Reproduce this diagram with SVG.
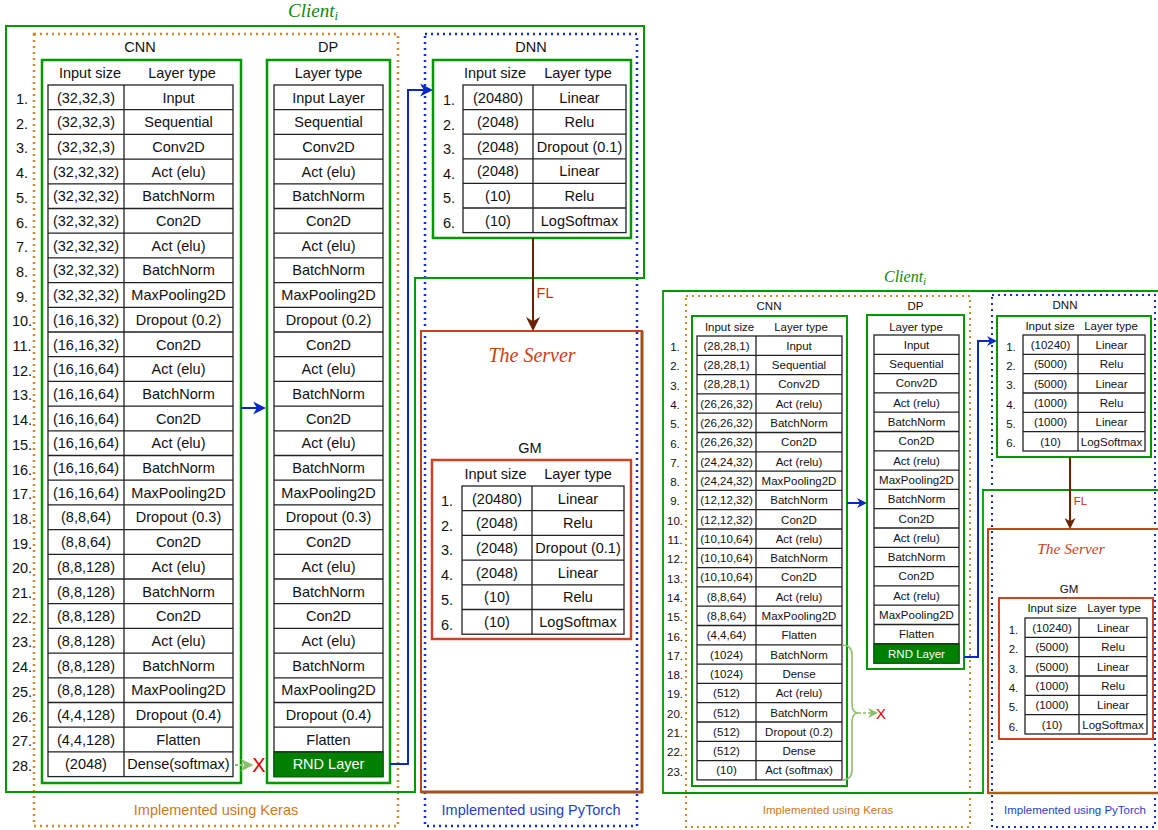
<svg xmlns="http://www.w3.org/2000/svg" width="1158" height="830" viewBox="0 0 1158 830">
<style>
.t{font-family:"Liberation Sans",Arial,sans-serif;font-size:14.5px;fill:#111;text-anchor:middle}
.s{font-size:11.5px}
.m{font-family:"Liberation Serif","Times New Roman",serif;font-style:italic}
.cell{fill:#fff;stroke:#222;stroke-width:1.3}
.grid{fill:none;stroke:#222;stroke-width:1.3}
.gb{fill:none;stroke:#009900;stroke-width:2.5}
.gbs{fill:none;stroke:#009900;stroke-width:2}
.ob{fill:none;stroke:#CC4422;stroke-width:2.5}
.kd{fill:none;stroke:#D08A2A;stroke-width:2.5;stroke-dasharray:2 4}
.pd{fill:none;stroke:#1030D0;stroke-width:2.5;stroke-dasharray:2 4}
.bl{fill:none;stroke:#0A28C8;stroke-width:2}
.br{fill:none;stroke:#6B2200;stroke-width:2}
.gd{fill:none;stroke:#8CBF6A;stroke-width:2;stroke-dasharray:3 2}
.rnd{fill:#008000;stroke:#006600;stroke-width:1.3}
.w{fill:#fff}
.x{font-family:"Liberation Sans",Arial,sans-serif;fill:#E00000;text-anchor:middle}
</style>
<defs>
<marker id="bL" viewBox="0 0 10 10" refX="7" refY="5" markerWidth="13" markerHeight="13" markerUnits="userSpaceOnUse" orient="auto"><path d="M0,0L10,5L0,10L3,5z" fill="#0A28C8"/></marker>
<marker id="bS" viewBox="0 0 10 10" refX="7" refY="5" markerWidth="10" markerHeight="10" markerUnits="userSpaceOnUse" orient="auto"><path d="M0,0L10,5L0,10L3,5z" fill="#0A28C8"/></marker>
<marker id="fL" viewBox="0 0 10 10" refX="7" refY="5" markerWidth="14" markerHeight="14" markerUnits="userSpaceOnUse" orient="auto"><path d="M0,0L10,5L0,10L3,5z" fill="#6B2200"/></marker>
<marker id="fS" viewBox="0 0 10 10" refX="7" refY="5" markerWidth="11" markerHeight="11" markerUnits="userSpaceOnUse" orient="auto"><path d="M0,0L10,5L0,10L3,5z" fill="#6B2200"/></marker>
<marker id="gL" viewBox="0 0 10 10" refX="7" refY="5" markerWidth="13" markerHeight="13" markerUnits="userSpaceOnUse" orient="auto"><path d="M0,0L10,5L0,10L3,5z" fill="#8CBF6A"/></marker>
<marker id="gS" viewBox="0 0 10 10" refX="7" refY="5" markerWidth="10" markerHeight="10" markerUnits="userSpaceOnUse" orient="auto"><path d="M0,0L10,5L0,10L3,5z" fill="#8CBF6A"/></marker>
</defs>
<rect width="1158" height="830" fill="#fff"/>

<!-- ================= LEFT DIAGRAM ================= -->
<g id="keras-left">
<rect class="kd" x="34" y="34" width="364" height="792"/>
<text class="t" x="216" y="815" style="fill:#CC7A1A">Implemented using Keras</text>
</g>
<g id="pytorch-left">
<rect class="pd" x="425" y="34" width="212" height="792"/>
<text class="t" x="531" y="815" style="fill:#1F3FCC">Implemented using PyTorch</text>
</g>
<g id="client-left">
<path d="M6,26H644V278H415V792H6Z" fill="none" stroke="#009900" stroke-width="2"/>
<text class="m" x="288" y="17" font-size="19" fill="#118811">Client<tspan font-size="13" dy="3">i</tspan></text>
</g>
<g id="server-left">
<rect x="421" y="331" width="221" height="461" fill="none" stroke="#C4441C" stroke-width="2"/>
<path d="M642,331V792H421" fill="none" stroke="#A3511B" stroke-width="3"/>
<text class="m" x="532" y="362" font-size="20" fill="#C8401A" text-anchor="middle">The Server</text>
</g>

<g id="cnn-left">
<text class="t" x="140" y="52">CNN</text>
<rect class="gb" x="42" y="60" width="199" height="723"/>
<text class="t" x="90" y="78">Input size</text>
<text class="t" x="182" y="78">Layer type</text>
<rect class="cell" x="48" y="85" width="185" height="691.6"/>
<path class="grid" d="M124,85v691.6M48,109.7h185m-185,24.7h185m-185,24.7h185m-185,24.7h185m-185,24.7h185m-185,24.7h185m-185,24.7h185m-185,24.7h185m-185,24.7h185m-185,24.7h185m-185,24.7h185m-185,24.7h185m-185,24.7h185m-185,24.7h185m-185,24.7h185m-185,24.7h185m-185,24.7h185m-185,24.7h185m-185,24.7h185m-185,24.7h185m-185,24.7h185m-185,24.7h185m-185,24.7h185m-185,24.7h185m-185,24.7h185m-185,24.7h185m-185,24.7h185"/>
<text class="t"><tspan x="22" y="104">1.</tspan><tspan x="22" y="128.7">2.</tspan><tspan x="22" y="153.4">3.</tspan><tspan x="22" y="178.1">4.</tspan><tspan x="22" y="202.8">5.</tspan><tspan x="22" y="227.5">6.</tspan><tspan x="22" y="252.2">7.</tspan><tspan x="22" y="276.9">8.</tspan><tspan x="22" y="301.6">9.</tspan><tspan x="22" y="326.3">10.</tspan><tspan x="22" y="351">11.</tspan><tspan x="22" y="375.7">12.</tspan><tspan x="22" y="400.4">13.</tspan><tspan x="22" y="425.1">14.</tspan><tspan x="22" y="449.8">15.</tspan><tspan x="22" y="474.5">16.</tspan><tspan x="22" y="499.2">17.</tspan><tspan x="22" y="523.9">18.</tspan><tspan x="22" y="548.6">19.</tspan><tspan x="22" y="573.3">20.</tspan><tspan x="22" y="598">21.</tspan><tspan x="22" y="622.7">22.</tspan><tspan x="22" y="647.4">23.</tspan><tspan x="22" y="672.1">24.</tspan><tspan x="22" y="696.8">25.</tspan><tspan x="22" y="721.5">26.</tspan><tspan x="22" y="746.2">27.</tspan><tspan x="22" y="770.9">28.</tspan></text>
<text class="t"><tspan x="86" y="102.5">(32,32,3)</tspan><tspan x="86" y="127.2">(32,32,3)</tspan><tspan x="86" y="151.9">(32,32,3)</tspan><tspan x="86" y="176.6">(32,32,32)</tspan><tspan x="86" y="201.3">(32,32,32)</tspan><tspan x="86" y="226">(32,32,32)</tspan><tspan x="86" y="250.7">(32,32,32)</tspan><tspan x="86" y="275.4">(32,32,32)</tspan><tspan x="86" y="300.1">(32,32,32)</tspan><tspan x="86" y="324.8">(16,16,32)</tspan><tspan x="86" y="349.5">(16,16,32)</tspan><tspan x="86" y="374.2">(16,16,64)</tspan><tspan x="86" y="398.9">(16,16,64)</tspan><tspan x="86" y="423.6">(16,16,64)</tspan><tspan x="86" y="448.3">(16,16,64)</tspan><tspan x="86" y="473">(16,16,64)</tspan><tspan x="86" y="497.7">(16,16,64)</tspan><tspan x="86" y="522.4">(8,8,64)</tspan><tspan x="86" y="547.1">(8,8,64)</tspan><tspan x="86" y="571.8">(8,8,128)</tspan><tspan x="86" y="596.5">(8,8,128)</tspan><tspan x="86" y="621.2">(8,8,128)</tspan><tspan x="86" y="645.9">(8,8,128)</tspan><tspan x="86" y="670.6">(8,8,128)</tspan><tspan x="86" y="695.3">(8,8,128)</tspan><tspan x="86" y="720">(4,4,128)</tspan><tspan x="86" y="744.7">(4,4,128)</tspan><tspan x="86" y="769.4">(2048)</tspan></text>
<text class="t"><tspan x="178.5" y="102.5">Input</tspan><tspan x="178.5" y="127.2">Sequential</tspan><tspan x="178.5" y="151.9">Conv2D</tspan><tspan x="178.5" y="176.6">Act (elu)</tspan><tspan x="178.5" y="201.3">BatchNorm</tspan><tspan x="178.5" y="226">Con2D</tspan><tspan x="178.5" y="250.7">Act (elu)</tspan><tspan x="178.5" y="275.4">BatchNorm</tspan><tspan x="178.5" y="300.1">MaxPooling2D</tspan><tspan x="178.5" y="324.8">Dropout (0.2)</tspan><tspan x="178.5" y="349.5">Con2D</tspan><tspan x="178.5" y="374.2">Act (elu)</tspan><tspan x="178.5" y="398.9">BatchNorm</tspan><tspan x="178.5" y="423.6">Con2D</tspan><tspan x="178.5" y="448.3">Act (elu)</tspan><tspan x="178.5" y="473">BatchNorm</tspan><tspan x="178.5" y="497.7">MaxPooling2D</tspan><tspan x="178.5" y="522.4">Dropout (0.3)</tspan><tspan x="178.5" y="547.1">Con2D</tspan><tspan x="178.5" y="571.8">Act (elu)</tspan><tspan x="178.5" y="596.5">BatchNorm</tspan><tspan x="178.5" y="621.2">Con2D</tspan><tspan x="178.5" y="645.9">Act (elu)</tspan><tspan x="178.5" y="670.6">BatchNorm</tspan><tspan x="178.5" y="695.3">MaxPooling2D</tspan><tspan x="178.5" y="720">Dropout (0.4)</tspan><tspan x="178.5" y="744.7">Flatten</tspan><tspan x="178.5" y="769.4">Dense(softmax)</tspan></text>
</g>

<g id="dp-left">
<text class="t" x="328" y="52">DP</text>
<rect class="gb" x="267" y="60" width="123" height="723"/>
<text class="t" x="328.5" y="78">Layer type</text>
<rect class="cell" x="274" y="85" width="109" height="691.6"/>
<rect class="rnd" x="274" y="751.9" width="109" height="24.7"/>
<path class="grid" d="M274,109.7h109m-109,24.7h109m-109,24.7h109m-109,24.7h109m-109,24.7h109m-109,24.7h109m-109,24.7h109m-109,24.7h109m-109,24.7h109m-109,24.7h109m-109,24.7h109m-109,24.7h109m-109,24.7h109m-109,24.7h109m-109,24.7h109m-109,24.7h109m-109,24.7h109m-109,24.7h109m-109,24.7h109m-109,24.7h109m-109,24.7h109m-109,24.7h109m-109,24.7h109m-109,24.7h109m-109,24.7h109m-109,24.7h109m-109,24.7h109"/>
<text class="t"><tspan x="328.5" y="102.5">Input Layer</tspan><tspan x="328.5" y="127.2">Sequential</tspan><tspan x="328.5" y="151.9">Conv2D</tspan><tspan x="328.5" y="176.6">Act (elu)</tspan><tspan x="328.5" y="201.3">BatchNorm</tspan><tspan x="328.5" y="226">Con2D</tspan><tspan x="328.5" y="250.7">Act (elu)</tspan><tspan x="328.5" y="275.4">BatchNorm</tspan><tspan x="328.5" y="300.1">MaxPooling2D</tspan><tspan x="328.5" y="324.8">Dropout (0.2)</tspan><tspan x="328.5" y="349.5">Con2D</tspan><tspan x="328.5" y="374.2">Act (elu)</tspan><tspan x="328.5" y="398.9">BatchNorm</tspan><tspan x="328.5" y="423.6">Con2D</tspan><tspan x="328.5" y="448.3">Act (elu)</tspan><tspan x="328.5" y="473">BatchNorm</tspan><tspan x="328.5" y="497.7">MaxPooling2D</tspan><tspan x="328.5" y="522.4">Dropout (0.3)</tspan><tspan x="328.5" y="547.1">Con2D</tspan><tspan x="328.5" y="571.8">Act (elu)</tspan><tspan x="328.5" y="596.5">BatchNorm</tspan><tspan x="328.5" y="621.2">Con2D</tspan><tspan x="328.5" y="645.9">Act (elu)</tspan><tspan x="328.5" y="670.6">BatchNorm</tspan><tspan x="328.5" y="695.3">MaxPooling2D</tspan><tspan x="328.5" y="720">Dropout (0.4)</tspan><tspan x="328.5" y="744.7">Flatten</tspan></text>
<text class="t w" x="328.5" y="769.4">RND Layer</text>
</g>

<g id="dnn-left">
<text class="t" x="531" y="52">DNN</text>
<rect class="gb" x="433" y="60" width="198" height="178"/>
<text class="t" x="495" y="78">Input size</text>
<text class="t" x="578" y="78">Layer type</text>
<rect class="cell" x="463" y="85" width="163" height="147.6"/>
<path class="grid" d="M533,85v147.6M463,109.6h163m-163,24.6h163m-163,24.6h163m-163,24.6h163m-163,24.6h163"/>
<text class="t"><tspan x="449" y="105">1.</tspan><tspan x="449" y="129.6">2.</tspan><tspan x="449" y="154.2">3.</tspan><tspan x="449" y="178.8">4.</tspan><tspan x="449" y="203.4">5.</tspan><tspan x="449" y="228">6.</tspan></text>
<text class="t"><tspan x="498" y="102.5">(20480)</tspan><tspan x="498" y="127.1">(2048)</tspan><tspan x="498" y="151.7">(2048)</tspan><tspan x="498" y="176.3">(2048)</tspan><tspan x="498" y="200.9">(10)</tspan><tspan x="498" y="225.5">(10)</tspan></text>
<text class="t"><tspan x="579.5" y="102.5">Linear</tspan><tspan x="579.5" y="127.1">Relu</tspan><tspan x="579.5" y="151.7">Dropout (0.1)</tspan><tspan x="579.5" y="176.3">Linear</tspan><tspan x="579.5" y="200.9">Relu</tspan><tspan x="579.5" y="225.5">LogSoftmax</tspan></text>
</g>

<g id="gm-left">
<text class="t" x="530" y="453">GM</text>
<rect class="ob" x="432" y="460" width="199" height="179"/>
<text class="t" x="495.5" y="479">Input size</text>
<text class="t" x="578" y="479">Layer type</text>
<rect class="cell" x="462" y="486" width="162" height="148.2"/>
<path class="grid" d="M532,486v148.2M462,510.7h162m-162,24.7h162m-162,24.7h162m-162,24.7h162m-162,24.7h162"/>
<text class="t"><tspan x="447" y="506">1.</tspan><tspan x="447" y="530.7">2.</tspan><tspan x="447" y="555.4">3.</tspan><tspan x="447" y="580.1">4.</tspan><tspan x="447" y="604.8">5.</tspan><tspan x="447" y="629.5">6.</tspan></text>
<text class="t"><tspan x="497" y="503.5">(20480)</tspan><tspan x="497" y="528.2">(2048)</tspan><tspan x="497" y="552.9">(2048)</tspan><tspan x="497" y="577.6">(2048)</tspan><tspan x="497" y="602.3">(10)</tspan><tspan x="497" y="627">(10)</tspan></text>
<text class="t"><tspan x="578" y="503.5">Linear</tspan><tspan x="578" y="528.2">Relu</tspan><tspan x="578" y="552.9">Dropout (0.1)</tspan><tspan x="578" y="577.6">Linear</tspan><tspan x="578" y="602.3">Relu</tspan><tspan x="578" y="627">LogSoftmax</tspan></text>
</g>

<!-- ================= RIGHT DIAGRAM ================= -->
<g id="keras-right">
<rect class="kd" x="686" y="296" width="284" height="531" style="stroke-width:2"/>
<text class="t s" x="828" y="814" style="fill:#CC7A1A">Implemented using Keras</text>
</g>
<g id="pytorch-right">
<rect class="pd" x="992" y="295" width="163" height="532" style="stroke-width:2"/>
<text class="t s" x="1075" y="814" style="fill:#1F3FCC">Implemented using PyTorch</text>
</g>
<g id="client-right">
<path d="M663,291H1162V490H983V793H663Z" fill="none" stroke="#009900" stroke-width="1.8"/>
<text class="m" x="884" y="282" font-size="16" fill="#118811">Client<tspan font-size="11" dy="3">i</tspan></text>
</g>
<g id="server-right">
<rect x="988" y="529" width="175" height="264" fill="none" stroke="#C4441C" stroke-width="2"/>
<path d="M988,793H1160" fill="none" stroke="#A3611B" stroke-width="2.5"/>
<text class="m" x="1071" y="553.5" font-size="15.5" fill="#C8401A" text-anchor="middle">The Server</text>
</g>

<g id="cnn-right">
<text class="t s" x="769" y="310">CNN</text>
<rect class="gbs" x="692" y="316" width="155" height="470"/>
<text class="t s" x="729.5" y="331">Input size</text>
<text class="t s" x="801" y="331">Layer type</text>
<rect class="cell" x="697" y="336" width="145" height="443.9"/>
<path class="grid" d="M756,336v443.9M697,355.3h145m-145,19.3h145m-145,19.3h145m-145,19.3h145m-145,19.3h145m-145,19.3h145m-145,19.3h145m-145,19.3h145m-145,19.3h145m-145,19.3h145m-145,19.3h145m-145,19.3h145m-145,19.3h145m-145,19.3h145m-145,19.3h145m-145,19.3h145m-145,19.3h145m-145,19.3h145m-145,19.3h145m-145,19.3h145m-145,19.3h145m-145,19.3h145"/>
<text class="t s"><tspan x="675" y="351">1.</tspan><tspan x="675" y="370.3">2.</tspan><tspan x="675" y="389.6">3.</tspan><tspan x="675" y="408.9">4.</tspan><tspan x="675" y="428.2">5.</tspan><tspan x="675" y="447.5">6.</tspan><tspan x="675" y="466.8">7.</tspan><tspan x="675" y="486.1">8.</tspan><tspan x="675" y="505.4">9.</tspan><tspan x="675" y="524.7">10.</tspan><tspan x="675" y="544">11.</tspan><tspan x="675" y="563.3">12.</tspan><tspan x="675" y="582.6">13.</tspan><tspan x="675" y="601.9">14.</tspan><tspan x="675" y="621.2">15.</tspan><tspan x="675" y="640.5">16.</tspan><tspan x="675" y="659.8">17.</tspan><tspan x="675" y="679.1">18.</tspan><tspan x="675" y="698.4">19.</tspan><tspan x="675" y="717.7">20.</tspan><tspan x="675" y="737">21.</tspan><tspan x="675" y="756.3">22.</tspan><tspan x="675" y="775.6">23.</tspan></text>
<text class="t s"><tspan x="726.5" y="349.8">(28,28,1)</tspan><tspan x="726.5" y="369.1">(28,28,1)</tspan><tspan x="726.5" y="388.4">(28,28,1)</tspan><tspan x="726.5" y="407.7">(26,26,32)</tspan><tspan x="726.5" y="427">(26,26,32)</tspan><tspan x="726.5" y="446.3">(26,26,32)</tspan><tspan x="726.5" y="465.6">(24,24,32)</tspan><tspan x="726.5" y="484.9">(24,24,32)</tspan><tspan x="726.5" y="504.2">(12,12,32)</tspan><tspan x="726.5" y="523.5">(12,12,32)</tspan><tspan x="726.5" y="542.8">(10,10,64)</tspan><tspan x="726.5" y="562.1">(10,10,64)</tspan><tspan x="726.5" y="581.4">(10,10,64)</tspan><tspan x="726.5" y="600.7">(8,8,64)</tspan><tspan x="726.5" y="620">(8,8,64)</tspan><tspan x="726.5" y="639.3">(4,4,64)</tspan><tspan x="726.5" y="658.6">(1024)</tspan><tspan x="726.5" y="677.9">(1024)</tspan><tspan x="726.5" y="697.2">(512)</tspan><tspan x="726.5" y="716.5">(512)</tspan><tspan x="726.5" y="735.8">(512)</tspan><tspan x="726.5" y="755.1">(512)</tspan><tspan x="726.5" y="774.4">(10)</tspan></text>
<text class="t s"><tspan x="799" y="349.8">Input</tspan><tspan x="799" y="369.1">Sequential</tspan><tspan x="799" y="388.4">Conv2D</tspan><tspan x="799" y="407.7">Act (relu)</tspan><tspan x="799" y="427">BatchNorm</tspan><tspan x="799" y="446.3">Con2D</tspan><tspan x="799" y="465.6">Act (relu)</tspan><tspan x="799" y="484.9">MaxPooling2D</tspan><tspan x="799" y="504.2">BatchNorm</tspan><tspan x="799" y="523.5">Con2D</tspan><tspan x="799" y="542.8">Act (relu)</tspan><tspan x="799" y="562.1">BatchNorm</tspan><tspan x="799" y="581.4">Con2D</tspan><tspan x="799" y="600.7">Act (relu)</tspan><tspan x="799" y="620">MaxPooling2D</tspan><tspan x="799" y="639.3">Flatten</tspan><tspan x="799" y="658.6">BatchNorm</tspan><tspan x="799" y="677.9">Dense</tspan><tspan x="799" y="697.2">Act (relu)</tspan><tspan x="799" y="716.5">BatchNorm</tspan><tspan x="799" y="735.8">Dropout (0.2)</tspan><tspan x="799" y="755.1">Dense</tspan><tspan x="799" y="774.4">Act (softmax)</tspan></text>
</g>

<g id="dp-right">
<text class="t s" x="915.5" y="310">DP</text>
<rect class="gbs" x="867" y="315" width="97" height="354"/>
<text class="t s" x="916" y="331">Layer type</text>
<rect class="cell" x="874" y="335" width="85" height="328.1"/>
<rect class="rnd" x="874" y="643.8" width="85" height="19.3"/>
<path class="grid" d="M874,354.3h85m-85,19.3h85m-85,19.3h85m-85,19.3h85m-85,19.3h85m-85,19.3h85m-85,19.3h85m-85,19.3h85m-85,19.3h85m-85,19.3h85m-85,19.3h85m-85,19.3h85m-85,19.3h85m-85,19.3h85m-85,19.3h85m-85,19.3h85"/>
<text class="t s"><tspan x="916.5" y="348.8">Input</tspan><tspan x="916.5" y="368.1">Sequential</tspan><tspan x="916.5" y="387.4">Conv2D</tspan><tspan x="916.5" y="406.7">Act (relu)</tspan><tspan x="916.5" y="426">BatchNorm</tspan><tspan x="916.5" y="445.3">Con2D</tspan><tspan x="916.5" y="464.6">Act (relu)</tspan><tspan x="916.5" y="483.9">MaxPooling2D</tspan><tspan x="916.5" y="503.2">BatchNorm</tspan><tspan x="916.5" y="522.5">Con2D</tspan><tspan x="916.5" y="541.8">Act (relu)</tspan><tspan x="916.5" y="561.1">BatchNorm</tspan><tspan x="916.5" y="580.4">Con2D</tspan><tspan x="916.5" y="599.7">Act (relu)</tspan><tspan x="916.5" y="619">MaxPooling2D</tspan><tspan x="916.5" y="638.3">Flatten</tspan></text>
<text class="t s w" x="916.5" y="657.6">RND Layer</text>
</g>

<g id="dnn-right">
<text class="t s" x="1065" y="309">DNN</text>
<rect class="gbs" x="997" y="316" width="154" height="141"/>
<text class="t s" x="1050" y="330">Input size</text>
<text class="t s" x="1111" y="330">Layer type</text>
<rect class="cell" x="1023" y="335" width="122" height="116"/>
<path class="grid" d="M1078,335v116M1023,354.33h122m-122,19.33h122m-122,19.33h122m-122,19.33h122m-122,19.33h122"/>
<text class="t s"><tspan x="1011" y="350.5">1.</tspan><tspan x="1011" y="369.8">2.</tspan><tspan x="1011" y="389.2">3.</tspan><tspan x="1011" y="408.5">4.</tspan><tspan x="1011" y="427.8">5.</tspan><tspan x="1011" y="447.2">6.</tspan></text>
<text class="t s"><tspan x="1050.5" y="348.8">(10240)</tspan><tspan x="1050.5" y="368.1">(5000)</tspan><tspan x="1050.5" y="387.5">(5000)</tspan><tspan x="1050.5" y="406.8">(1000)</tspan><tspan x="1050.5" y="426.1">(1000)</tspan><tspan x="1050.5" y="445.5">(10)</tspan></text>
<text class="t s"><tspan x="1111.5" y="348.8">Linear</tspan><tspan x="1111.5" y="368.1">Relu</tspan><tspan x="1111.5" y="387.5">Linear</tspan><tspan x="1111.5" y="406.8">Relu</tspan><tspan x="1111.5" y="426.1">Linear</tspan><tspan x="1111.5" y="445.5">LogSoftmax</tspan></text>
</g>

<g id="gm-right">
<text class="t s" x="1069" y="593">GM</text>
<rect class="ob" x="999" y="598" width="154" height="141" style="stroke-width:2"/>
<text class="t s" x="1052" y="612">Input size</text>
<text class="t s" x="1114" y="612">Layer type</text>
<rect class="cell" x="1025" y="618" width="122" height="116"/>
<path class="grid" d="M1079,618v116M1025,637.33h122m-122,19.33h122m-122,19.33h122m-122,19.33h122m-122,19.33h122"/>
<text class="t s"><tspan x="1013.5" y="634">1.</tspan><tspan x="1013.5" y="653.3">2.</tspan><tspan x="1013.5" y="672.7">3.</tspan><tspan x="1013.5" y="692">4.</tspan><tspan x="1013.5" y="711.3">5.</tspan><tspan x="1013.5" y="730.7">6.</tspan></text>
<text class="t s"><tspan x="1052" y="631.8">(10240)</tspan><tspan x="1052" y="651.1">(5000)</tspan><tspan x="1052" y="670.5">(5000)</tspan><tspan x="1052" y="689.8">(1000)</tspan><tspan x="1052" y="709.1">(1000)</tspan><tspan x="1052" y="728.5">(10)</tspan></text>
<text class="t s"><tspan x="1113" y="631.8">Linear</tspan><tspan x="1113" y="651.1">Relu</tspan><tspan x="1113" y="670.5">Linear</tspan><tspan x="1113" y="689.8">Relu</tspan><tspan x="1113" y="709.1">Linear</tspan><tspan x="1113" y="728.5">LogSoftmax</tspan></text>
</g>

<!-- ================= CONNECTORS ================= -->
<g id="connectors">
<path class="bl" d="M241,408H262.1" marker-end="url(#bL)"/>
<path class="bl" d="M390,764H408V90H429.1" marker-end="url(#bL)"/>
<path class="br" d="M533,238V326.8" marker-end="url(#fL)"/>
<text class="t" x="545" y="298" style="fill:#CC3300">FL</text>
<path class="gd" d="M235,765H249.4" marker-end="url(#gL)"/>
<text class="x" x="259" y="772" font-size="20">X</text>

<path class="bl" d="M847,503H864" marker-end="url(#bS)"/>
<path class="bl" d="M964,657H978V341H994" marker-end="url(#bS)"/>
<path class="br" d="M1070,457V525.7" marker-end="url(#fS)"/>
<text class="t s" x="1080.5" y="505" style="fill:#CC3300">FL</text>
<path d="M842,645Q852,645 852,655L852,703Q852,713 858,713Q852,713 852,723L852,770Q852,780 842,780" fill="none" stroke="#8CBF6A" stroke-width="1.6"/>
<path class="gd" d="M858,713H875" marker-end="url(#gS)" style="stroke-width:1.6"/>
<text class="x" x="881" y="719" font-size="15">X</text>
</g>
</svg>
